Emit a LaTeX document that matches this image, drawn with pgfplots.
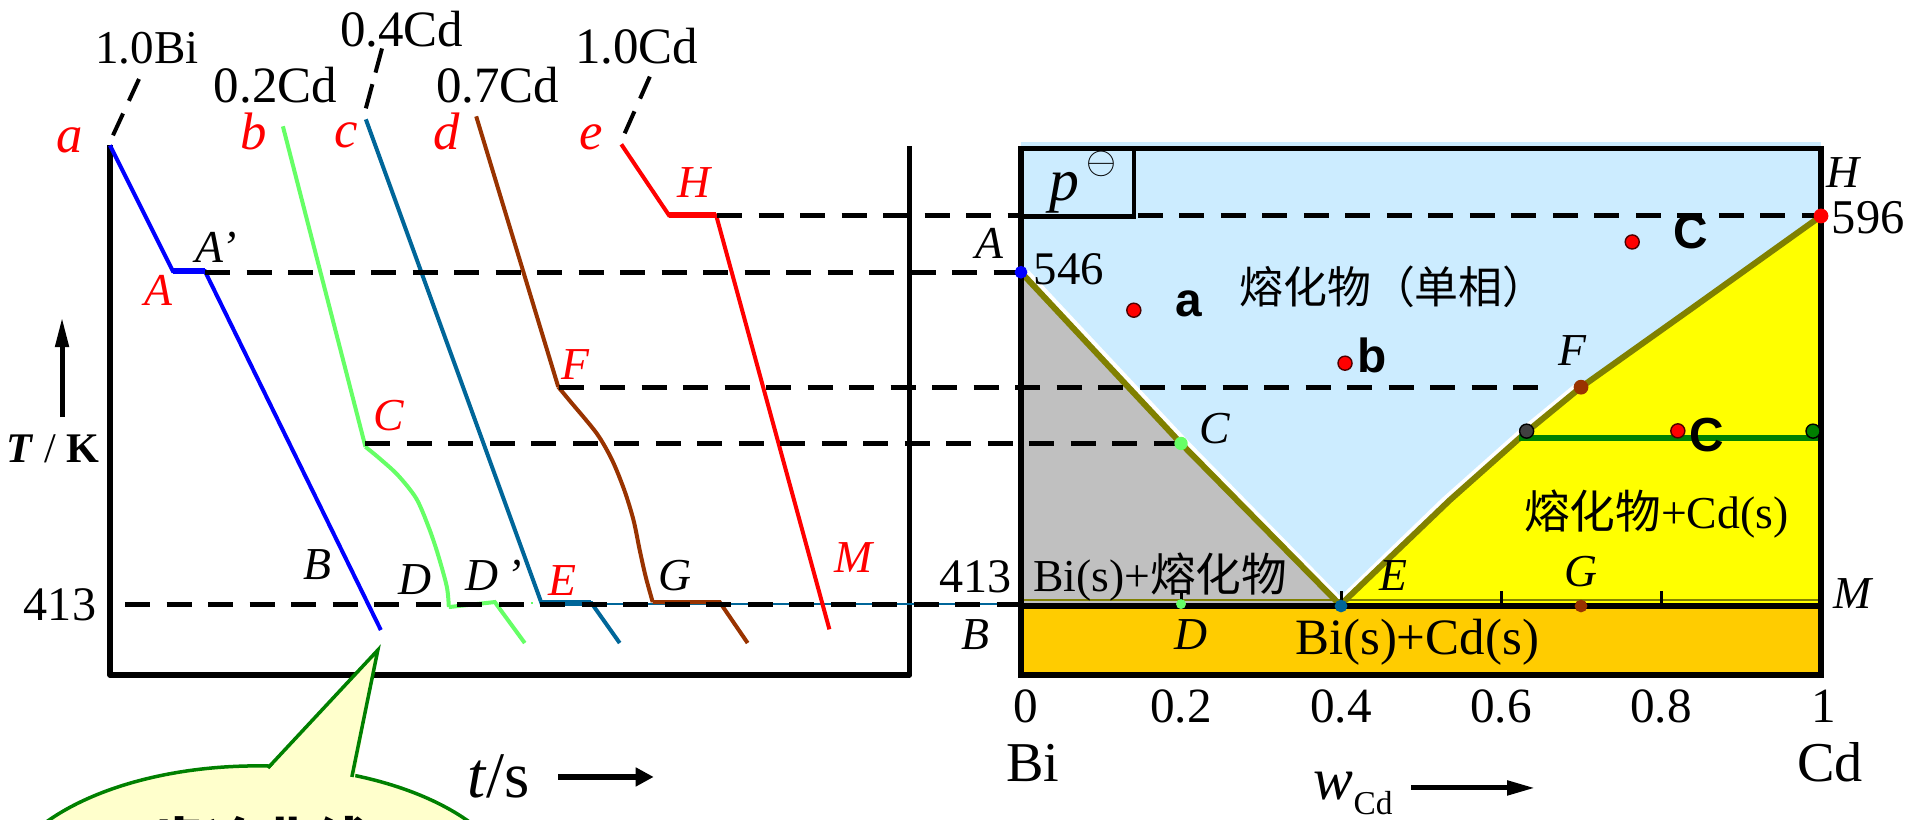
\documentclass[border=0pt]{standalone}
\usepackage{fontspec}
\setmainfont{Liberation Serif}
\newfontfamily\cjk{Noto Sans CJK SC}
\newfontfamily\arial{Liberation Sans}
\usepackage{pgfplots}
\pgfplotsset{compat=1.18}
\usetikzlibrary{arrows.meta}
\definecolor{lblue}{HTML}{CCECFF}
\definecolor{lgray}{HTML}{C0C0C0}
\definecolor{yel}{HTML}{FFFF00}
\definecolor{orng}{HTML}{FFCC00}
\definecolor{oliv}{HTML}{808000}
\definecolor{cblue}{HTML}{0000FF}
\definecolor{cgreen}{HTML}{66FF66}
\definecolor{cteal}{HTML}{006699}
\definecolor{cbrown}{HTML}{993300}
\definecolor{cred}{HTML}{FF0000}
\definecolor{dgreen}{HTML}{008000}
\definecolor{bubble}{HTML}{FFFFCC}
\definecolor{dgray}{HTML}{404040}
\newcommand{\fs}[1]{\fontsize{#1}{#1}\selectfont}
\begin{document}
\begin{tikzpicture}[every node/.style={inner sep=0pt}]
\useasboundingbox (0,0) rectangle (19.15,8.19);
% ================= LEFT: cooling curves =================
\begin{axis}[at={(1.10cm,1.44cm)}, anchor=south west, x=0.01cm, y=0.01cm,
  xmin=0, xmax=800, ymin=0, ymax=530, axis lines=none, clip=false]
% frame
\addplot[black, line width=0.055cm, line join=round] coordinates {(0,530) (0,0) (800,0) (800,529)};
% a : pure Bi
\addplot[cblue, line width=0.04cm] coordinates {(0,530) (63,404) (95,404) (271,45)};
\addplot[cblue, line width=0.06cm] coordinates {(63,404) (95,404)};
% b : 0.2 Cd
\addplot[cgreen, line width=0.04cm] coordinates {(173,549) (255.6,228.3)};
\addplot[cgreen, line width=0.04cm, smooth] coordinates {(255.6,228.3) (269.7,216.7) (288,200) (306.4,176.7) (318.7,148.3) (327.8,121.7) (337,88.3) (339,68)};
\addplot[cgreen, line width=0.04cm] coordinates {(339,68) (385,73) (415,32)};
\addplot[cgreen, line width=0.02cm, dotted] coordinates {(385,72) (431,72)};
% c : 0.4 Cd
\addplot[cteal, line width=0.02cm] coordinates {(481.7,71) (911,71)};
\addplot[cteal, line width=0.04cm] coordinates {(256,556) (431.7,72) (481.7,72) (510,32)};
\addplot[cteal, line width=0.06cm] coordinates {(431.7,72) (481.7,72)};
% d : 0.7 Cd
\addplot[cbrown, line width=0.04cm] coordinates {(366.4,559) (448.5,288.3)};
\addplot[cbrown, line width=0.04cm, smooth] coordinates {(448.5,288.3) (459.5,275) (487,241.7) (502.4,215) (514.6,185) (523.8,155) (530,125) (536,98.3) (543,73)};
\addplot[cbrown, line width=0.04cm] coordinates {(543,73) (610,73) (638,32)};
% e : pure Cd
\addplot[cred, line width=0.04cm] coordinates {(511.6,531) (559.3,460) (606.5,460) (719.8,45.7)};
\addplot[cred, line width=0.06cm] coordinates {(559.3,460) (606.5,460)};
% connectors to composition labels
\addplot[black, line width=0.04cm, dash pattern=on 0.24cm off 0.14cm] coordinates {(3,540) (33,605)};
\addplot[black, line width=0.04cm, dash pattern=on 0.25cm off 0.12cm] coordinates {(256,567) (273,630)};
\addplot[black, line width=0.04cm, dash pattern=on 0.24cm off 0.14cm] coordinates {(515,542) (542,603)};
% composition labels
\node[font=\fs{13.4}] at (37,627.5) {1.0Bi};
\node[font=\fs{14.5}] at (165.5,590) {0.2Cd};
\node[font=\fs{14.5}] at (292,646.5) {0.4Cd};
\node[font=\fs{14.5}] at (388,590) {0.7Cd};
\node[font=\fs{14.5}] at (527,629) {1.0Cd};
% red start letters
\node[font=\fs{15}\itshape, text=cred] at (-40,535) {a};
\node[font=\fs{15}\itshape, text=cred] at (144,544) {b};
\node[font=\fs{15}\itshape, text=cred] at (236,540) {c};
\node[font=\fs{15}\itshape, text=cred] at (337,544) {d};
\node[font=\fs{15}\itshape, text=cred] at (481,538) {e};
% point labels
\node[font=\fs{13}\itshape, text=cred] at (48,385) {A};
\node[font=\fs{13}\itshape] at (106,428) {A'};
\node[font=\fs{13}\itshape, text=cred] at (584,493) {H};
\node[font=\fs{13}\itshape, text=cred] at (466,311) {F};
\node[font=\fs{13}\itshape, text=cred] at (279,260) {C};
\node[font=\fs{13}\itshape] at (208,110) {B};
\node[font=\fs{13}\itshape] at (305,95) {D};
\node[font=\fs{13}\itshape] at (384,100) {D\,'};
\node[font=\fs{13}\itshape, text=cred] at (453,95) {E};
\node[font=\fs{13}\itshape] at (565,100) {G};
\node[font=\fs{13}\itshape, text=cred] at (744,118) {M};
% axis labels
\node[font=\fs{13.7}] at (-50,70.5) {413};
\node[font=\fs{12}] at (-57,226) {\textbf{\textit{T}} / \textbf{K}};
\draw[line width=0.05cm, -{Triangle[length=0.3cm, width=0.13cm]}] (axis cs:-48,258) -- (axis cs:-48,358);
\node[font=\fs{18.5}, anchor=base] at (389,-123) {\textit{t}/s};
\draw[line width=0.06cm, -{Triangle[length=0.18cm, width=0.18cm]}] (axis cs:448.5,-102) -- (axis cs:544,-102);
% speech bubble
\fill[bubble] (axis cs:148,-225) ellipse [x radius=2.6cm, y radius=1.34cm];
\draw[dgreen, line width=0.035cm] (axis cs:148,-225) ellipse [x radius=2.6cm, y radius=1.34cm];
\fill[bubble] (axis cs:156,-98) -- (axis cs:268,25) -- (axis cs:244,-108) -- cycle;
\draw[dgreen, line width=0.035cm, line join=miter] (axis cs:158,-93) -- (axis cs:268,25) -- (axis cs:242,-102);
\node[font=\cjk\bfseries\fs{15.6}, anchor=base] at (150,-189) {步冷曲线};
\end{axis}
% ================= RIGHT: phase diagram =================
\begin{axis}[at={(10.21cm,1.44cm)}, anchor=south west, x=8cm, y=0.01cm,
  xmin=0, xmax=1, ymin=0, ymax=527, axis lines=none, clip=false]
% regions
\addplot[fill=lblue, draw=none] coordinates {(0,69) (1,69) (1,533) (0,533)} -- cycle;
\addplot[fill=orng, draw=none] coordinates {(0,0) (1,0) (1,69) (0,69)} -- cycle;
\addplot[fill=lgray, draw=none] coordinates {(0,403) (0.2,231.7) (0.399,69) (0,69)} -- cycle;
\addplot[fill=yel, draw=none] coordinates {(0.399,69) (0.536,175) (0.632,243.3) (0.70,288) (0.837,366) (1,459.3) (1,69)} -- cycle;
% liquidus lines
\addplot[white, line width=0.06cm] coordinates {(0.007,403) (0.207,231.7) (0.406,69)};
\addplot[white, line width=0.06cm] coordinates {(0.392,69) (0.529,175) (0.625,243.3) (0.693,288)};
\addplot[oliv, line width=0.06cm] coordinates {(0,403) (0.2,231.7) (0.399,70)};
\addplot[oliv, line width=0.06cm] coordinates {(0.399,70) (0.536,175) (0.632,243.3) (0.70,288) (0.837,366) (1,459.3)};
% eutectic line
\addplot[oliv, line width=0.02cm] coordinates {(0,75) (1,75)};
\addplot[black, line width=0.06cm] coordinates {(0,69) (1,69)};
% tie line
\addplot[dgreen, line width=0.057cm] coordinates {(0.623,237.3) (1,237.3)};
% ticks
\addplot[black, line width=0.03cm] coordinates {(0.2,69) (0.2,84)};
\addplot[black, line width=0.03cm] coordinates {(0.6,69) (0.6,84)};
\addplot[black, line width=0.03cm] coordinates {(0.8,69) (0.8,84)};
% dashed construction lines
\addplot[black, line width=0.05cm, dash pattern=on 0.25cm off 0.165cm] coordinates {(-0.38,460) (0,460)};
\addplot[black, line width=0.05cm, dash pattern=on 0.25cm off 0.165cm] coordinates {(0.146,460) (0.999,460)};
\addplot[black, line width=0.05cm, dash pattern=on 0.25cm off 0.165cm] coordinates {(-1.02,403) (0,403)};
\addplot[black, line width=0.05cm, dash pattern=on 0.25cm off 0.165cm] coordinates {(-0.578,288) (0.661,288)};
\addplot[black, line width=0.05cm, dash pattern=on 0.25cm off 0.165cm] coordinates {(-0.8195,232) (0.1925,232)};
\addplot[black, line width=0.05cm, dash pattern=on 0.25cm off 0.165cm] coordinates {(-1.12,71) (0,71)};
% frame and p box
\addplot[black, line width=0.055cm] coordinates {(0,0) (1,0) (1,527) (0,527)} -- cycle;
\addplot[black, line width=0.045cm] coordinates {(0,459) (0.141,459) (0.141,527)};
% points
\addplot[only marks, mark=*, mark size=1.6pt, mark options={fill=cblue, draw=cblue}] coordinates {(0,403)};
\addplot[only marks, mark=*, mark size=1.9pt, mark options={fill=cred, draw=cred}] coordinates {(1,459.3)};
\addplot[only marks, mark=*, mark size=1.7pt, mark options={fill=cgreen, draw=cgreen}] coordinates {(0.2,231.7)};
\addplot[only marks, mark=*, mark size=1.9pt, mark options={fill=cbrown, draw=cbrown}] coordinates {(0.70,288)};
\addplot[only marks, mark=*, mark size=2pt, mark options={fill=dgray, draw=black, line width=0.4pt}] coordinates {(0.632,244)};
\addplot[only marks, mark=*, mark size=2pt, mark options={fill=dgreen, draw=black, line width=0.4pt}] coordinates {(0.99,244)};
\addplot[only marks, mark=*, mark size=2pt, mark options={fill=cred, draw=black!70!red, line width=0.4pt}] coordinates {(0.141,365) (0.405,312) (0.764,433.3) (0.821,244.3)};
\addplot[only marks, mark=*, mark size=1.2pt, mark options={fill=cgreen, draw=cgreen}] coordinates {(0.2,71)};
\addplot[only marks, mark=*, mark size=1.6pt, mark options={fill=cteal, draw=cteal}] coordinates {(0.4,69)};
\addplot[only marks, mark=*, mark size=1.6pt, mark options={fill=cbrown, draw=cbrown}] coordinates {(0.7,69)};
\addplot[black, line width=0.03cm] coordinates {(0.4,69) (0.4,84)};
% labels
\node[font=\fs{17}\itshape] at (0.054,483) {p};
\node[font=\fs{11}] at (0.1,511) {$\ominus$};
\node[font=\fs{13}\itshape] at (-0.039,432) {A};
\node[font=\fs{13.3}] at (0.06,406) {546};
\node[font=\fs{13}\itshape] at (1.028,503) {H};
\node[font=\fs{13.8}] at (1.059,458) {596};
\node[font=\cjk\fs{12.5}] at (0.465,388) {熔化物（单相）};
\node[font=\arial\bfseries\fs{13.6}] at (0.21,371) {a};
\node[font=\arial\bfseries\fs{13.6}] at (0.439,320) {b};
\node[font=\arial\bfseries\fs{13.6}] at (0.837,443.3) {C};
\node[font=\arial\bfseries\fs{13.6}] at (0.857,240) {C};
\node[font=\fs{13}\itshape] at (0.689,325) {F};
\node[font=\fs{13}\itshape] at (0.242,247) {C};
\node[font=\fs{13}] at (0.794,161) {{\cjk 熔化物}+Cd(s)};
\node[font=\fs{13.7}] at (-0.057,98) {413};
\node[font=\fs{13}] at (0.174,98) {Bi(s)+{\cjk 熔化物}};
\node[font=\fs{13}\itshape] at (0.465,100) {E};
\node[font=\fs{13}\itshape] at (0.70,103) {G};
\node[font=\fs{13}\itshape] at (1.039,82) {M};
\node[font=\fs{13}\itshape] at (-0.0575,40) {B};
\node[font=\fs{13}\itshape] at (0.2125,40) {D};
\node[font=\fs{14.5}] at (0.495,33) {Bi(s)+Cd(s)};
% scale
\node[font=\fs{14}] at (0.006,-31) {0};
\node[font=\fs{14}] at (0.2,-31) {0.2};
\node[font=\fs{14}] at (0.4,-31) {0.4};
\node[font=\fs{14}] at (0.6,-31) {0.6};
\node[font=\fs{14}] at (0.8,-31) {0.8};
\node[font=\fs{14}] at (1.003,-31) {1};
\node[font=\fs{16}] at (0.015,-88) {Bi};
\node[font=\fs{16}] at (1.011,-87) {Cd};
\node[font=\fs{17}, anchor=base west] at (0.365,-125) {\textit{w}\raisebox{-0.15cm}{\fs{9.5}Cd}};
\draw[line width=0.05cm, -{Triangle[length=0.28cm, width=0.14cm]}] (axis cs:0.4875,-113) -- (axis cs:0.6425,-113);
\end{axis}
\end{tikzpicture}
\end{document}
